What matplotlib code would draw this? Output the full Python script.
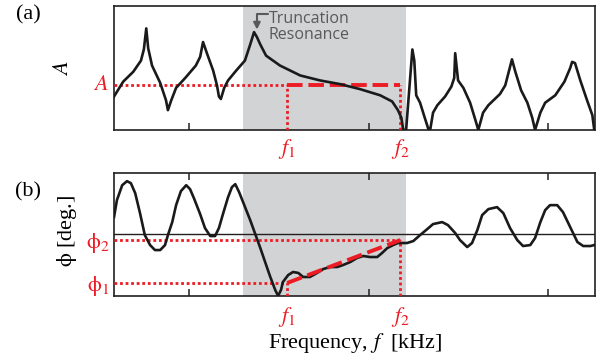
import matplotlib
matplotlib.use('Agg')
import matplotlib.pyplot as plt

plt.rcParams['font.family'] = ['Liberation Serif', 'DejaVu Serif']
plt.rcParams['mathtext.fontset'] = 'stix'

# amplitude curve (panel a)
freq_a = [0.00, 0.19, 0.40, 0.56, 0.62, 0.67, 0.71, 0.79, 0.96, 1.08, 1.12, 1.19, 1.29, 1.48,
          1.70, 1.79, 1.85, 1.93, 2.06, 2.14, 2.18, 2.22, 2.29, 2.37, 2.54, 2.72, 2.83, 2.91,
          2.97, 3.04, 3.16, 3.45, 3.87, 4.28, 4.70, 5.11, 5.53, 5.78, 5.90, 5.97, 6.01, 6.07,
          6.20, 6.24, 6.28, 6.36, 6.44, 6.53, 6.57, 6.63, 6.72, 6.88, 7.01, 7.07, 7.09, 7.15,
          7.26, 7.40, 7.51, 7.57, 7.67, 7.78, 8.02, 8.13, 8.21, 8.27, 8.34, 8.46, 8.59, 8.69,
          8.75, 8.86, 8.96, 9.17, 9.36, 9.48, 9.52, 9.58, 9.69, 9.83, 9.94, 9.98]
amp = [0.27, 0.39, 0.47, 0.56, 0.65, 0.82, 0.66, 0.52, 0.38, 0.24, 0.16, 0.24, 0.34, 0.42,
       0.52, 0.59, 0.71, 0.62, 0.48, 0.36, 0.27, 0.25, 0.34, 0.40, 0.48, 0.56, 0.69, 0.79,
       0.75, 0.69, 0.60, 0.52, 0.44, 0.40, 0.37, 0.33, 0.28, 0.23, 0.16, 0.10, 0.00, 0.00,
       0.65, 0.56, 0.28, 0.22, 0.12, 0.01, 0.00, 0.14, 0.20, 0.27, 0.35, 0.42, 0.62, 0.40,
       0.34, 0.22, 0.08, 0.00, 0.14, 0.20, 0.29, 0.36, 0.48, 0.57, 0.47, 0.32, 0.22, 0.10,
       0.00, 0.14, 0.22, 0.28, 0.39, 0.50, 0.55, 0.54, 0.40, 0.24, 0.12, 0.00]

# phase curve (panel b), degrees
freq_b = [0.00, 0.06, 0.17, 0.27, 0.35, 0.44, 0.54, 0.64, 0.75, 0.85, 0.96, 1.06, 1.12, 1.21,
          1.29, 1.39, 1.50, 1.58, 1.66, 1.79, 1.89, 2.00, 2.10, 2.18, 2.27, 2.37, 2.45, 2.52,
          2.60, 2.83, 3.04, 3.24, 3.35, 3.41, 3.47, 3.51, 3.62, 3.72, 3.83, 3.93, 4.07, 4.22,
          4.35, 4.49, 4.64, 4.76, 4.91, 5.05, 5.18, 5.32, 5.47, 5.57, 5.68, 5.80, 5.90, 6.09,
          6.22, 6.36, 6.51, 6.63, 6.82, 6.94, 7.09, 7.19, 7.34, 7.44, 7.55, 7.65, 7.78, 7.96,
          8.09, 8.23, 8.38, 8.50, 8.65, 8.75, 8.86, 8.96, 9.06, 9.21, 9.33, 9.48, 9.63, 9.75,
          9.90, 9.98]
phase = [24.8, 49.6, 71.5, 77.4, 74.5, 59.9, 30.7, -1.5, -16.1, -23.4, -23.4, -16.1, -1.5, 17.5,
         42.3, 62.8, 71.5, 65.7, 52.6, 29.2, 8.8, -2.9, -2.9, 8.8, 30.7, 54.0, 68.6, 73.0,
         61.3, 20.4, -20.4, -61.3, -81.8, -90.5, -81.8, -70.1, -59.9, -55.5, -56.9, -62.8, -62.8, -56.9,
         -51.1, -48.2, -48.2, -45.3, -40.9, -35.0, -32.1, -33.6, -33.6, -27.7, -20.4, -16.1, -13.1, -13.1,
         -10.2, -1.5, 7.3, 14.6, 17.5, 13.1, 1.5, -8.8, -19.0, -13.1, 5.8, 27.7, 36.5, 39.4,
         30.7, 8.8, -8.8, -17.5, -16.1, -5.8, 17.5, 35.0, 42.3, 42.3, 32.1, 10.2, -11.7, -17.5,
         -17.5, -16.1]

band = (2.68, 6.07)          # truncation band (shaded)
f1, f2 = 3.60, 5.95
A_level = 0.363
phi1, phi2 = -71.5, -8.8
ticks = [1.56, 5.30, 9.02]

red = '#ed1c24'
shade = '#d1d3d4'
spine_c = '#231f20'
label_gray = '#58595b'

fig = plt.figure(figsize=(6.13, 3.6), dpi=100)
ax1 = fig.add_axes([0.186, 0.639, 0.785, 0.344])
ax2 = fig.add_axes([0.186, 0.178, 0.785, 0.341])

for ax in (ax1, ax2):
    ax.set_xlim(0, 10)
    ax.axvspan(band[0], band[1], color=shade, lw=0, zorder=0)
    for s in ax.spines.values():
        s.set_color(spine_c)
        s.set_linewidth(1.2)
    ax.set_xticks(ticks)
    ax.set_xticklabels([])
    ax.set_yticks([])
    ax.tick_params(axis='x', direction='in', length=5, width=1.1, color=spine_c)

ax2.tick_params(axis='x', top=True)

# panel (a)
ax1.set_ylim(0, 1)
ax1.plot([0, f1], [A_level, A_level], color=red, lw=2, ls=(0, (1, 1)), zorder=3)
ax1.plot([f1, f2], [A_level, A_level], color=red, lw=2.8, ls=(0, (4, 1.5)), zorder=3)
ax1.plot([f1, f1], [0, A_level], color=red, lw=2, ls=(0, (1, 1)), zorder=3)
ax1.plot([f2, f2], [0, A_level], color=red, lw=2, ls=(0, (1, 1)), zorder=3)
ax1.plot(freq_a, amp, color='#1a1a1a', lw=1.9, zorder=4, solid_joinstyle='round')

ax1.text(-0.12, A_level, '$A$', color=red, fontsize=16, ha='right', va='center')
ax1.text(f1, -0.15, '$f_1$', color=red, fontsize=16, ha='center', va='center', clip_on=False)
ax1.text(f2, -0.15, '$f_2$', color=red, fontsize=16, ha='center', va='center', clip_on=False)

ax1.annotate('', xy=(2.97, 0.81), xytext=(3.20, 0.94),
             arrowprops=dict(arrowstyle='-|>', connectionstyle='angle,angleA=0,angleB=90,rad=0',
                             color=label_gray, lw=1.5, shrinkA=0, shrinkB=0, mutation_scale=10))
ax1.text(3.22, 0.835, 'Truncation\nResonance', color=label_gray, fontsize=11.5,
         family='Open Sans', ha='left', va='center', linespacing=1.0)

# panel (b)
ax2.set_ylim(-90.5, 89.1)
ax2.axhline(0, color=spine_c, lw=1.0, zorder=2)
ax2.plot([0, f2], [phi2, phi2], color=red, lw=2, ls=(0, (1, 1)), zorder=3)
ax2.plot([0, f1], [phi1, phi1], color=red, lw=2, ls=(0, (1, 1)), zorder=3)
ax2.plot([f1, f1], [-90.5, phi1], color=red, lw=2, ls=(0, (1, 1)), zorder=3)
ax2.plot([f2, f2], [-90.5, phi2], color=red, lw=2, ls=(0, (1, 1)), zorder=3)
ax2.plot(freq_b, phase, color='#1a1a1a', lw=1.9, zorder=4)
ax2.plot([f1, f2], [phi1, phi2], color=red, lw=2.8, ls=(0, (4, 1.5)), zorder=5)

ax2.text(-0.1, phi2 - 4, '$\\mathrm{\u03d5}_2$', color=red, fontsize=16, ha='right', va='center')
ax2.text(-0.1, phi1 - 4, '$\\mathrm{\u03d5}_1$', color=red, fontsize=16, ha='right', va='center')
ax2.text(f1, -121, '$f_1$', color=red, fontsize=16, ha='center', va='center', clip_on=False)
ax2.text(f2, -121, '$f_2$', color=red, fontsize=16, ha='center', va='center', clip_on=False)

fig.text(0.046, 0.958, '(a)', fontsize=16, ha='center', va='center')
fig.text(0.046, 0.467, '(b)', fontsize=16, ha='center', va='center')
fig.text(0.104, 0.81, '$A$', fontsize=16, rotation=90, ha='center', va='center')
fig.text(0.109, 0.358, '$\\mathrm{\u03d5}$ [deg.]', fontsize=16, rotation=90, ha='center', va='center')
fig.text(0.579, 0.047, 'Frequency, $f$  [kHz]', fontsize=16, ha='center', va='center')

fig.savefig('out.png', dpi=100)
